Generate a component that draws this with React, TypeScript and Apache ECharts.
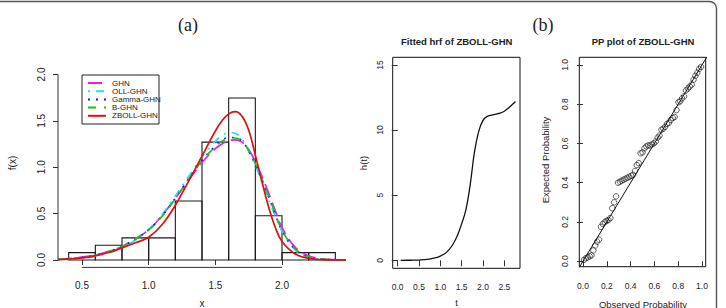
import { useEffect, useRef } from "react";
import * as echarts from "echarts";

// ---- (a) histogram of the data with fitted densities ----
const binEdges = [0.4, 0.6, 0.8, 1.0, 1.2, 1.4, 1.6, 1.8, 2.0, 2.2, 2.4];
const binDensity = [0.079, 0.159, 0.238, 0.238, 0.635, 1.27, 1.746, 0.476, 0.079, 0.079];

const densityX = [0.32, 0.4, 0.5, 0.6, 0.7, 0.8, 0.9, 1.0, 1.1, 1.2, 1.3, 1.4, 1.5, 1.55, 1.6, 1.65, 1.7, 1.75, 1.8, 1.85, 1.9, 1.95, 2.0, 2.1, 2.2, 2.3, 2.4, 2.48];
const ghn = [0.008, 0.015, 0.03, 0.055, 0.093, 0.145, 0.228, 0.325, 0.48, 0.665, 0.86, 1.05, 1.2, 1.25, 1.285, 1.295, 1.27, 1.19, 1.06, 0.9, 0.72, 0.53, 0.35, 0.135, 0.045, 0.013, 0.003, 0.001];
const ollGhn = [0.004, 0.009, 0.02, 0.04, 0.075, 0.13, 0.215, 0.33, 0.49, 0.69, 0.9, 1.11, 1.28, 1.34, 1.375, 1.365, 1.3, 1.18, 1.02, 0.84, 0.65, 0.47, 0.31, 0.105, 0.028, 0.006, 0.001, 0];
const gammaGhn = [0.006, 0.013, 0.026, 0.05, 0.088, 0.145, 0.225, 0.325, 0.475, 0.665, 0.875, 1.075, 1.23, 1.29, 1.32, 1.32, 1.28, 1.175, 1.03, 0.86, 0.68, 0.49, 0.315, 0.115, 0.033, 0.008, 0.002, 0];
const bGhn = [0.006, 0.013, 0.027, 0.05, 0.09, 0.145, 0.225, 0.325, 0.47, 0.66, 0.87, 1.07, 1.22, 1.28, 1.31, 1.315, 1.28, 1.18, 1.04, 0.87, 0.69, 0.5, 0.32, 0.12, 0.035, 0.009, 0.002, 0];
const zbollGhn = [0.004, 0.01, 0.022, 0.045, 0.08, 0.13, 0.185, 0.245, 0.38, 0.59, 0.85, 1.12, 1.39, 1.5, 1.575, 1.6, 1.55, 1.4, 1.13, 0.84, 0.57, 0.35, 0.2, 0.065, 0.018, 0.004, 0.001, 0];

const densityTicksX = [0.5, 1.0, 1.5, 2.0];
const densityTicksY = [0.0, 0.5, 1.0, 1.5, 2.0];

const fits = [
  { name: "GHN", values: ghn, color: "#e81ee8", dash: [14, 6] },
  { name: "OLL-GHN", values: ollGhn, color: "#22e0ee", dash: [2, 6, 8, 6] },
  { name: "Gamma-GHN", values: gammaGhn, color: "#1a1acc", dash: [2, 6] },
  { name: "B-GHN", values: bGhn, color: "#22bb22", dash: [8, 8] },
  { name: "ZBOLL-GHN", values: zbollGhn, color: "#dd1111", dash: "solid" as const },
];

// ---- (b) fitted hazard rate ----
const hrfT = [0.07, 0.3, 0.5, 0.7, 0.9, 1.0, 1.1, 1.2, 1.3, 1.4, 1.5, 1.6, 1.7, 1.8, 1.9, 2.0, 2.1, 2.2, 2.3, 2.4, 2.5, 2.6, 2.7, 2.76];
const hrfH = [0.0, 0.005, 0.02, 0.07, 0.2, 0.32, 0.5, 0.8, 1.25, 1.9, 2.8, 3.9, 5.8, 8.3, 9.9, 10.75, 11.05, 11.15, 11.22, 11.3, 11.45, 11.7, 12.0, 12.2];
const hrfTicksX = [0, 0.5, 1.0, 1.5, 2.0, 2.5];
const hrfTicksY = [0, 5, 10, 15];

// ---- (c) PP plot ----
const observedProb = [0.008, 0.024, 0.04, 0.056, 0.071, 0.087, 0.103, 0.119, 0.135, 0.151, 0.167, 0.183, 0.198, 0.214, 0.23, 0.246, 0.262, 0.278, 0.294, 0.31, 0.325, 0.341, 0.357, 0.373, 0.389, 0.405, 0.421, 0.437, 0.452, 0.468, 0.484, 0.5, 0.516, 0.532, 0.548, 0.563, 0.579, 0.595, 0.611, 0.627, 0.643, 0.659, 0.675, 0.69, 0.706, 0.722, 0.738, 0.754, 0.77, 0.786, 0.802, 0.817, 0.833, 0.849, 0.865, 0.881, 0.897, 0.913, 0.929, 0.944, 0.96, 0.976, 0.992];
const expectedProb = [0.007, 0.015, 0.02, 0.025, 0.03, 0.055, 0.08, 0.1, 0.11, 0.175, 0.19, 0.2, 0.205, 0.21, 0.22, 0.27, 0.3, 0.33, 0.4, 0.405, 0.41, 0.415, 0.42, 0.425, 0.43, 0.435, 0.44, 0.46, 0.49, 0.5, 0.55, 0.555, 0.575, 0.585, 0.59, 0.59, 0.595, 0.6, 0.61, 0.63, 0.64, 0.67, 0.675, 0.685, 0.7, 0.705, 0.72, 0.73, 0.735, 0.77, 0.81, 0.815, 0.83, 0.84, 0.87, 0.88, 0.89, 0.9, 0.925, 0.945, 0.96, 0.98, 0.99];
const ppTicks = [0, 0.2, 0.4, 0.6, 0.8, 1.0];
const identityLine = [[-0.1, -0.1], [1.1, 1.1]];

const SANS = "'Liberation Sans', Arial, Helvetica, sans-serif";
const INK = "#222";
const AXIS = "#333";

const axisLineStyle = { color: AXIS, width: 1 };

// plot-region extents of panel (a)
const A_X = [0.32, 2.48];
const A_Y = [-0.08, 2.08];

function label(text: string, x: number, y: number, size: number, opts: any = {}) {
  return {
    type: "text",
    x,
    y,
    rotation: opts.rotate ? Math.PI / 2 : 0,
    style: {
      text,
      fill: INK,
      font: `${opts.bold ? "bold " : ""}${size}px ${opts.family || SANS}`,
      align: "center",
      verticalAlign: "middle",
      textAlign: "center",
      textVerticalAlign: "middle",
    },
  };
}

export default function App() {
  const ref = useRef<HTMLDivElement>(null);

  useEffect(() => {
    if (!ref.current) return;
    const chart = echarts.init(ref.current, undefined, { renderer: "svg" });

    const histData = binDensity.map((d, i) => [binEdges[i], binEdges[i + 1], d]);

    const legendItems: any[] = [
      {
        type: "rect",
        shape: { x: 82, y: 75, width: 77, height: 49 },
        style: { fill: "#fff", stroke: INK, lineWidth: 1 },
      },
    ];
    fits.forEach((f, i) => {
      const y = 83 + i * 8.2;
      legendItems.push({
        type: "line",
        shape: { x1: 88, y1: y, x2: 106, y2: y },
        style: { stroke: f.color, lineWidth: 2, lineDash: f.dash === "solid" ? null : f.dash },
      });
      legendItems.push({
        type: "text",
        x: 112,
        y,
        style: {
          text: f.name,
          fill: INK,
          font: `8px ${SANS}`,
          align: "left",
          verticalAlign: "middle",
          textAlign: "left",
          textVerticalAlign: "middle",
        },
      });
    });

    const staticGraphic: any[] = [
      {
        type: "rect",
        shape: { x: -10, y: 1.5, width: 726.5, height: 330, r: [0, 7, 0, 0] },
        style: { fill: "none", stroke: "#555", lineWidth: 1.4 },
        silent: true,
      },
      label("(a)", 188, 25, 18, { family: "'Liberation Serif', 'Times New Roman', serif" }),
      label("(b)", 543, 25, 18, { family: "'Liberation Serif', 'Times New Roman', serif" }),
      label("x", 202, 303, 10),
      label("f(x)", 12, 163, 10, { rotate: true }),
      label("Fitted hrf of ZBOLL-GHN", 456.7, 41, 9.5, { bold: true }),
      label("t", 456.5, 302, 9.5),
      label("h(t)", 363, 163, 9.5, { rotate: true }),
      label("PP plot of ZBOLL-GHN", 643, 41, 9.5, { bold: true }),
      label("Observed Probability", 643, 304, 9.5),
      label("Expected Probability", 545, 160, 9.5, { rotate: true }),
      ...legendItems,
    ];

    const option: any = {
      animation: false,
      backgroundColor: "#fff",
      grid: [
        { left: 58, top: 67, width: 288, height: 200.4 },
        { left: 392.7, top: 57.3, width: 127.3, height: 211, show: true, borderColor: "#111", borderWidth: 1 },
        { left: 579.3, top: 57.3, width: 126.4, height: 209.4, show: true, borderColor: "#111", borderWidth: 1 },
      ],
      xAxis: [
        {
          gridIndex: 0, type: "value", min: A_X[0], max: A_X[1],
          axisLine: { show: false },
          axisTick: { show: true, length: 5, lineStyle: axisLineStyle, customValues: densityTicksX },
          axisLabel: { fontSize: 10, color: INK, fontFamily: SANS, margin: 13.5, customValues: densityTicksX, formatter: (v: number) => v.toFixed(1) },
          splitLine: { show: false },
        },
        {
          gridIndex: 1, type: "value", min: -0.117, max: 2.868,
          axisLine: { show: false },
          axisTick: { show: true, length: 6, lineStyle: axisLineStyle, customValues: hrfTicksX },
          axisLabel: { fontSize: 8.5, color: INK, fontFamily: SANS, margin: 14, customValues: hrfTicksX, formatter: (v: number) => v.toFixed(1) },
          splitLine: { show: false },
        },
        {
          gridIndex: 2, type: "value", min: -0.031, max: 1.031,
          axisLine: { show: false },
          axisTick: { show: true, length: 6, lineStyle: axisLineStyle, customValues: ppTicks },
          axisLabel: { fontSize: 8.5, color: INK, fontFamily: SANS, margin: 15, customValues: ppTicks, formatter: (v: number) => v.toFixed(1) },
          splitLine: { show: false },
        },
      ],
      yAxis: [
        {
          gridIndex: 0, type: "value", min: A_Y[0], max: A_Y[1],
          axisLine: { show: false },
          axisTick: { show: true, length: 5, lineStyle: axisLineStyle, customValues: densityTicksY },
          axisLabel: { fontSize: 10, color: INK, fontFamily: SANS, margin: 12, rotate: 90, customValues: densityTicksY, formatter: (v: number) => v.toFixed(1) },
          splitLine: { show: false },
        },
        {
          gridIndex: 1, type: "value", min: -0.614, max: 15.59,
          axisLine: { show: false },
          axisTick: { show: true, length: 6, lineStyle: axisLineStyle, customValues: hrfTicksY },
          axisLabel: { fontSize: 8.5, color: INK, fontFamily: SANS, margin: 8, rotate: 90, customValues: hrfTicksY },
          splitLine: { show: false },
        },
        {
          gridIndex: 2, type: "value", min: -0.028, max: 1.039,
          axisLine: { show: false },
          axisTick: { show: true, length: 6, lineStyle: axisLineStyle, customValues: ppTicks },
          axisLabel: { fontSize: 8.5, color: INK, fontFamily: SANS, margin: 10, rotate: 90, customValues: ppTicks, formatter: (v: number) => v.toFixed(1) },
          splitLine: { show: false },
        },
      ],
      series: [
        {
          type: "custom",
          xAxisIndex: 0,
          yAxisIndex: 0,
          clip: true,
          data: histData,
          encode: { x: [0, 1], y: 2 },
          renderItem: (_p: any, api: any) => {
            const a = api.coord([api.value(0), api.value(2)]);
            const b = api.coord([api.value(1), 0]);
            return {
              type: "rect",
              shape: { x: a[0], y: a[1], width: b[0] - a[0], height: b[1] - a[1] },
              style: { fill: "none", stroke: "#1a1a1a", lineWidth: 1.1 },
            };
          },
        },
        ...fits.map((f) => ({
          type: "line",
          name: f.name,
          xAxisIndex: 0,
          yAxisIndex: 0,
          clip: true,
          smooth: 0.4,
          showSymbol: false,
          symbol: "none",
          data: densityX.map((x, i) => [x, f.values[i]]),
          lineStyle: { color: f.color, width: 1.7, type: f.dash },
        })),
        {
          type: "line",
          xAxisIndex: 1,
          yAxisIndex: 1,
          smooth: 0.4,
          symbol: "none",
          data: hrfT.map((t, i) => [t, hrfH[i]]),
          lineStyle: { color: "#111", width: 1.3 },
        },
        {
          type: "line",
          xAxisIndex: 2,
          yAxisIndex: 2,
          clip: true,
          symbol: "none",
          data: identityLine,
          lineStyle: { color: "#111", width: 1 },
        },
        {
          type: "scatter",
          xAxisIndex: 2,
          yAxisIndex: 2,
          symbol: "circle",
          symbolSize: 5.5,
          data: observedProb.map((p, i) => [p, expectedProb[i]]),
          itemStyle: { color: "rgba(0,0,0,0)", borderColor: "#222", borderWidth: 0.9 },
        },
      ],
      graphic: staticGraphic,
    };

    chart.setOption(option);

    // Panel (a) axis lines run only between the first and last tick
    const fin = { xAxisIndex: 0, yAxisIndex: 0 };
    const xa = chart.convertToPixel(fin, [densityTicksX[0], A_Y[0]]) as number[];
    const xb = chart.convertToPixel(fin, [densityTicksX[densityTicksX.length - 1], A_Y[0]]) as number[];
    const ya = chart.convertToPixel(fin, [A_X[0], densityTicksY[0]]) as number[];
    const yb = chart.convertToPixel(fin, [A_X[0], densityTicksY[densityTicksY.length - 1]]) as number[];
    chart.setOption({
      graphic: [
        ...staticGraphic,
        { type: "line", shape: { x1: xa[0], y1: xa[1], x2: xb[0], y2: xb[1] }, style: { stroke: AXIS, lineWidth: 1 } },
        { type: "line", shape: { x1: ya[0], y1: ya[1], x2: yb[0], y2: yb[1] }, style: { stroke: AXIS, lineWidth: 1 } },
      ],
    });

    return () => chart.dispose();
  }, []);

  return (
    <div
      ref={ref}
      style={{ position: "fixed", left: 0, top: 0, width: 726, height: 308, background: "#fff" }}
    />
  );
}
